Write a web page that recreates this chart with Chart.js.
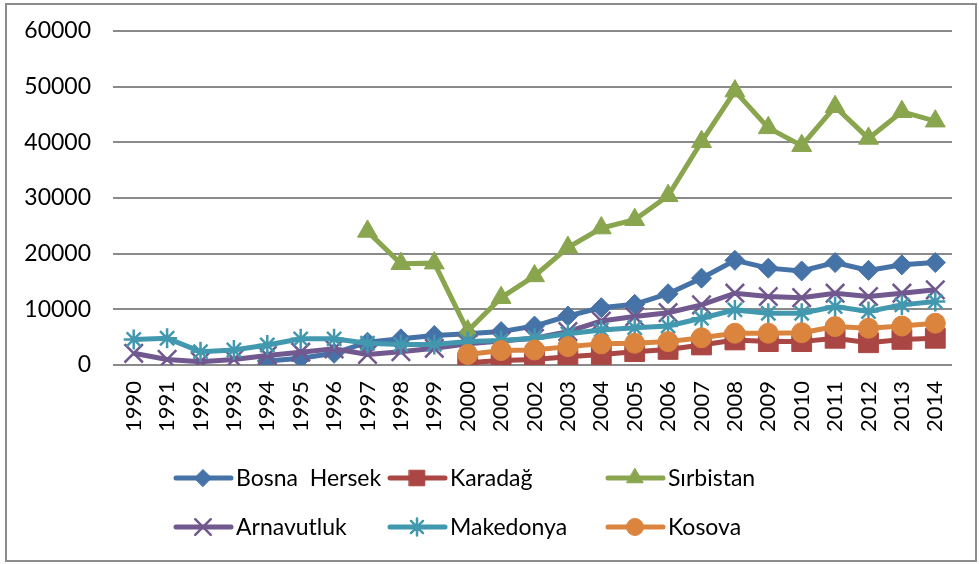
<!DOCTYPE html>
<html>
<head>
<meta charset="utf-8">
<script src="https://cdn.jsdelivr.net/npm/chart.js@4.4.1/dist/chart.umd.min.js"></script>
<style>
    html, body { margin: 0; padding: 0; background: #fff; }
    #wrap { position: relative; width: 979px; height: 564px; }
    #frame {
        position: absolute; left: 5px; top: 3px; width: 968px; height: 555px;
        border: 2px solid #8c8c8c; pointer-events: none;
    }
</style>
</head>
<body>
<div id="wrap">
    <canvas id="chart" width="979" height="564"></canvas>
    <div id="frame"></div>
</div>
<script>
const years = ["1990","1991","1992","1993","1994","1995","1996","1997","1998","1999","2000","2001",
    "2002","2003","2004","2005","2006","2007","2008","2009","2010","2011","2012","2013","2014"];

const bosnaHersek = [null, null, null, null, 700, 1200, 2100, 4100, 4700, 5300, 5600, 6000,
    7000, 8800, 10300, 10900, 12800, 15600, 18800, 17400, 16900, 18400, 17000, 18000, 18400];
const karadag = [null, null, null, null, null, null, null, null, null, null, 400, 800,
    1000, 1500, 1900, 2400, 2800, 3600, 4500, 4200, 4200, 4800, 4000, 4600, 4800];
const sirbistan = [null, null, null, null, null, null, null, 24000, 18200, 18300, 6100, 12100,
    16000, 21100, 24600, 26100, 30400, 40100, 49200, 42600, 39400, 46400, 40700, 45500, 43800];
const arnavutluk = [2100, 1000, 600, 1000, 1700, 2300, 2900, 1900, 2400, 3000, 3800, 4300,
    4800, 6000, 7900, 8700, 9400, 10800, 12900, 12300, 12100, 12900, 12300, 12900, 13500];
const makedonya = [4600, 4800, 2400, 2700, 3600, 4700, 4700, 3900, 3700, 3700, 4200, 4400,
    4800, 5600, 6300, 6700, 7000, 8400, 9900, 9300, 9300, 10500, 9600, 10800, 11400];
const kosova = [null, null, null, null, null, null, null, null, null, null, 1900, 2600,
    2700, 3300, 3800, 3900, 4200, 4900, 5700, 5700, 5800, 6900, 6600, 7000, 7500];

const yTicks = [0, 10000, 20000, 30000, 40000, 50000, 60000];

const FONT = "Lato, 'Open Sans', sans-serif";

// name, values, colour, marker
const series = [
    { label: "Bosna  Hersek", data: bosnaHersek, color: "#4572A7", style: "rectRot", r: 10, lr: 8.5 },
    { label: "Karadağ", data: karadag, color: "#AA4643", style: "rect", r: 14, lr: 11 },
    { label: "Sırbistan", data: sirbistan, color: "#89A54E", style: "triangle", r: 11.5, lr: 9.5 },
    { label: "Arnavutluk", data: arnavutluk, color: "#71588F", style: "crossRot", r: 13, lr: 11 },
    { label: "Makedonya", data: makedonya, color: "#4198AF", style: "star", r: 10, lr: 8.5 },
    { label: "Kosova", data: kosova, color: "#DB843D", style: "circle", r: 10, lr: 8.5 },
];

function markerBorder(style) {
    return style === "crossRot" || style === "star" ? 2.5 : 1;
}

// -----------------------------
// Legend (two rows x three columns, drawn by hand)
// -----------------------------
const gridLegend = {
    id: "gridLegend",
    afterDraw(chart) {
        const ctx = chart.ctx;
        const cols = [176, 390, 608];
        const rows = [478, 527];
        series.forEach((s, i) => {
            const x = cols[i % 3];
            const y = rows[Math.floor(i / 3)];
            ctx.save();
            ctx.strokeStyle = s.color;
            ctx.fillStyle = s.color;
            ctx.lineWidth = 5;
            ctx.lineCap = "round";
            ctx.beginPath();
            ctx.moveTo(x, y);
            ctx.lineTo(x + 55, y);
            ctx.stroke();
            ctx.lineWidth = markerBorder(s.style);
            Chart.helpers.drawPoint(ctx, {
                pointStyle: s.style,
                radius: s.lr,
                borderWidth: ctx.lineWidth,
            }, x + 27, y);
            ctx.fillStyle = "#000";
            ctx.font = "23px " + FONT;
            ctx.textBaseline = "middle";
            ctx.fillText(s.label, x + 60, y + 1);
            ctx.restore();
        });
    },
};

const datasets = series.map((s, i) => ({
    label: s.label,
    data: s.data,
    borderColor: s.color,
    backgroundColor: s.color,
    borderWidth: 5,
    pointStyle: s.style,
    pointRadius: s.r,
    pointBorderWidth: markerBorder(s.style),
    pointBackgroundColor: s.color,
    pointBorderColor: s.color,
    tension: 0,
    spanGaps: false,
    order: series.length - i,
}));

new Chart(document.getElementById("chart"), {
    type: "line",
    data: { labels: years, datasets: datasets },
    options: {
        responsive: false,
        animation: false,
        layout: { padding: { left: 0, right: 27, top: 0, bottom: 114 } },
        plugins: {
            legend: { display: false },
            tooltip: { enabled: false },
        },
        scales: {
            x: {
                offset: true,
                grid: { display: false, drawTicks: false },
                border: { display: false },
                ticks: {
                    color: "#000",
                    font: { size: 22, family: FONT },
                    minRotation: 90,
                    maxRotation: 90,
                    autoSkip: false,
                    padding: 16,
                },
                afterFit(scale) { scale.height = 85; },
            },
            y: {
                min: 0,
                max: 60000,
                afterBuildTicks(scale) { scale.ticks = yTicks.map(v => ({ value: v })); },
                grid: { color: "#8a8a8a", lineWidth: 2, tickLength: 4 },
                border: { display: false },
                ticks: {
                    color: "#000",
                    font: { size: 23, family: FONT },
                    padding: 22,
                    callback: (value) => String(value),
                },
                afterFit(scale) {
                    scale.width = 117;
                    scale.paddingTop = 31;
                    scale.paddingBottom = 0;
                },
            },
        },
    },
    plugins: [gridLegend],
});
</script>
</body>
</html>
